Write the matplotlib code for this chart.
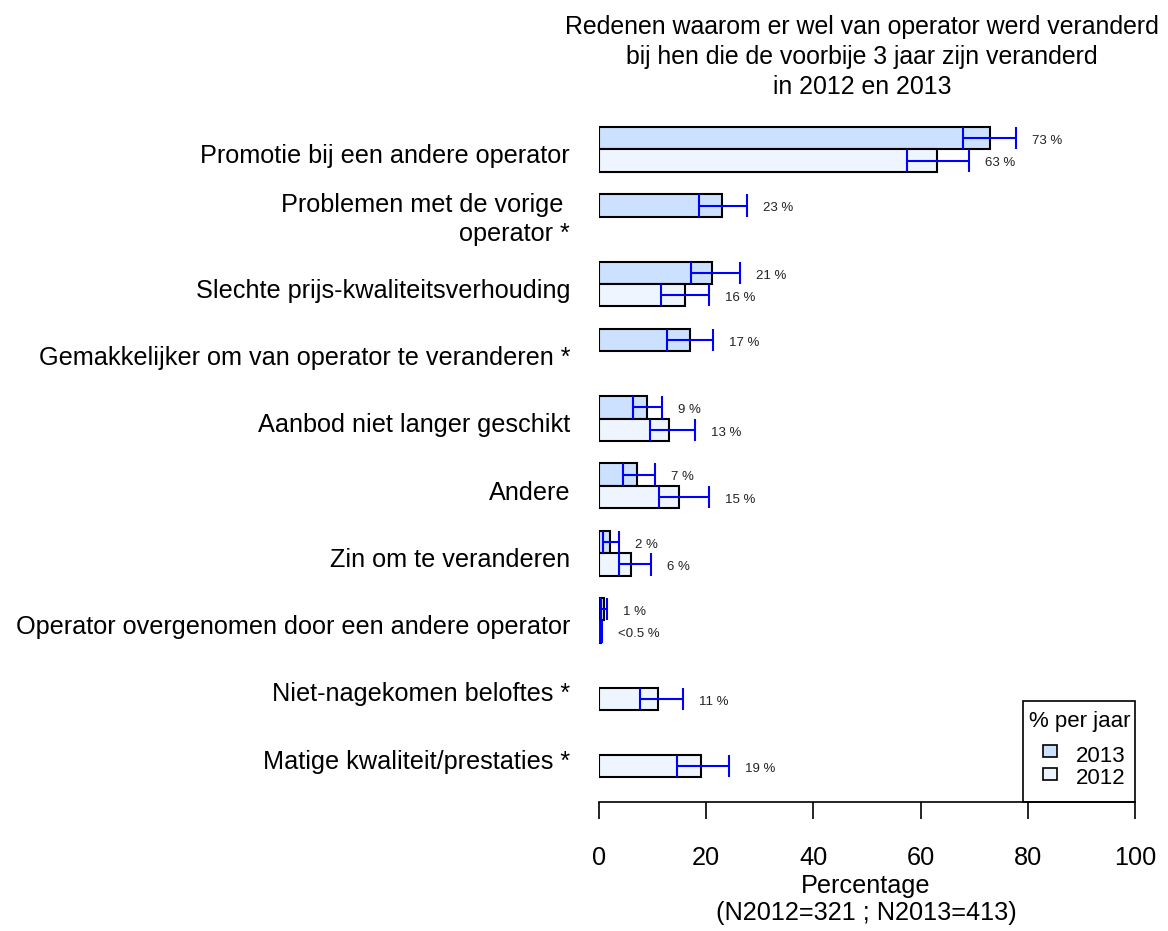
import numpy as np
import matplotlib
matplotlib.use("Agg")
import matplotlib.pyplot as plt
from matplotlib.patches import Rectangle

plt.rcParams['font.family'] = ['Liberation Sans', 'DejaVu Sans']

categories = [
    "Promotie bij een andere operator",
    "Problemen met de vorige \noperator *",
    "Slechte prijs-kwaliteitsverhouding",
    "Gemakkelijker om van operator te veranderen *",
    "Aanbod niet langer geschikt",
    "Andere",
    "Zin om te veranderen",
    "Operator overgenomen door een andere operator",
    "Niet-nagekomen beloftes *",
    "Matige kwaliteit/prestaties *",
]
nan = np.nan
pct_2013 = [73, 23, 21, 17, 9, 7, 2, 1, nan, nan]
pct_2012 = [63, nan, 16, nan, 13, 15, 6, 0.3, 11, 19]
low_2013 = [67.9, 18.7, 17.2, 12.7, 6.3, 4.5, 0.7, 0.3, nan, nan]
high_2013 = [77.8, 27.6, 26.3, 21.3, 11.8, 10.4, 3.7, 1.5, nan, nan]
low_2012 = [57.5, nan, 11.6, nan, 9.5, 11.2, 3.7, 0.1, 7.6, 14.6]
high_2012 = [69.0, nan, 20.5, nan, 17.9, 20.5, 9.7, 0.6, 15.7, 24.3]
label_2013 = ["73 %", "23 %", "21 %", "17 %", "9 %", "7 %", "2 %", "1 %", "", ""]
label_2012 = ["63 %", "", "16 %", "", "13 %", "15 %", "6 %", "<0.5 %", "11 %", "19 %"]
x_ticks = [0, 20, 40, 60, 80, 100]

col_2013 = "#cce0ff"
col_2012 = "#eef5ff"
err_col = "#0000ff"
big = 18.2

W, H = 1168, 931
fig = plt.figure(figsize=(W / 100, H / 100), dpi=100)
ax_left, ax_right = 599 / W, 1135 / W
ax_bottom, ax_top = 1 - 802 / H, 1 - 110 / H
ax = fig.add_axes([ax_left, ax_bottom, ax_right - ax_left, ax_top - ax_bottom])

n = len(categories)
centers = -np.arange(n, dtype=float)
bh = 1 / 3

def draw_series(vals, lows, highs, labels, offset, color):
    for k in range(n):
        v = vals[k]
        if np.isnan(v):
            continue
        yc = centers[k] + offset
        ax.barh(yc, v, height=bh, color=color, edgecolor="black", linewidth=1.5, zorder=2)
        lo, hi = lows[k], highs[k]
        ax.hlines(yc, lo, hi, color=err_col, linewidth=1.5, zorder=3)
        ax.vlines([lo, hi], yc - bh / 2, yc + bh / 2, color=err_col, linewidth=1.5, zorder=3)
        ax.text(hi + 3, yc - 0.04, labels[k], fontsize=9.5, ha="left", va="center", color="#222222")

draw_series(pct_2013, low_2013, high_2013, label_2013, bh / 2, col_2013)
draw_series(pct_2012, low_2012, high_2012, label_2012, -bh / 2, col_2012)

for k, cat in enumerate(categories):
    shift = -0.045 if "\n" in cat else -0.1
    ax.text(-5.4, centers[k] + shift, cat, fontsize=big, ha="right", va="center",
            linespacing=1.25, clip_on=False)

ax.set_xlim(0, 100)
ax.set_ylim(-9 - 47 / 67.3, (149.5 - 110) / 67.3)
for s in ["top", "right", "left"]:
    ax.spines[s].set_visible(False)
ax.spines["bottom"].set_linewidth(1.2)
ax.set_yticks([])
ax.set_xticks(x_ticks)
ax.tick_params(axis="x", direction="out", length=12, width=1.2, pad=19.5, labelsize=big)

# legend box
lx0 = (1023 - 599) / 536
lh = 101 / 692
ax.add_patch(Rectangle((lx0, 0), 1 - lx0, lh, transform=ax.transAxes, fill=False,
                       edgecolor="black", linewidth=1.2, clip_on=False))
fig.text(1080 / W, 1 - 722 / H, "% per jaar", fontsize=16, ha="center", va="center")
for yy, col, lab in [(751, col_2013, "2013"), (774, col_2012, "2012")]:
    fig.patches.append(Rectangle((1043 / W, 1 - (yy + 6) / H), 14 / W, 12 / H,
                                 transform=fig.transFigure, facecolor=col,
                                 edgecolor="black", linewidth=1.2))
    fig.text(1101 / W, 1 - (yy + 5) / H, lab, fontsize=16, ha="center", va="center")

cx = 866 / W
fig.text(cx, 1 - 886 / H, "Percentage", fontsize=big, ha="center", va="center")
fig.text(cx, 1 - 913 / H, "(N2012=321 ; N2013=413)", fontsize=big, ha="center", va="center")
for yy, line in [(27, "Redenen waarom er wel van operator werd veranderd"),
                 (57, "bij hen die de voorbije 3 jaar zijn veranderd"),
                 (87, "in 2012 en 2013")]:
    fig.text(862 / W, 1 - yy / H, line, fontsize=17.9, ha="center", va="center")

fig.savefig("out.png", dpi=100)
